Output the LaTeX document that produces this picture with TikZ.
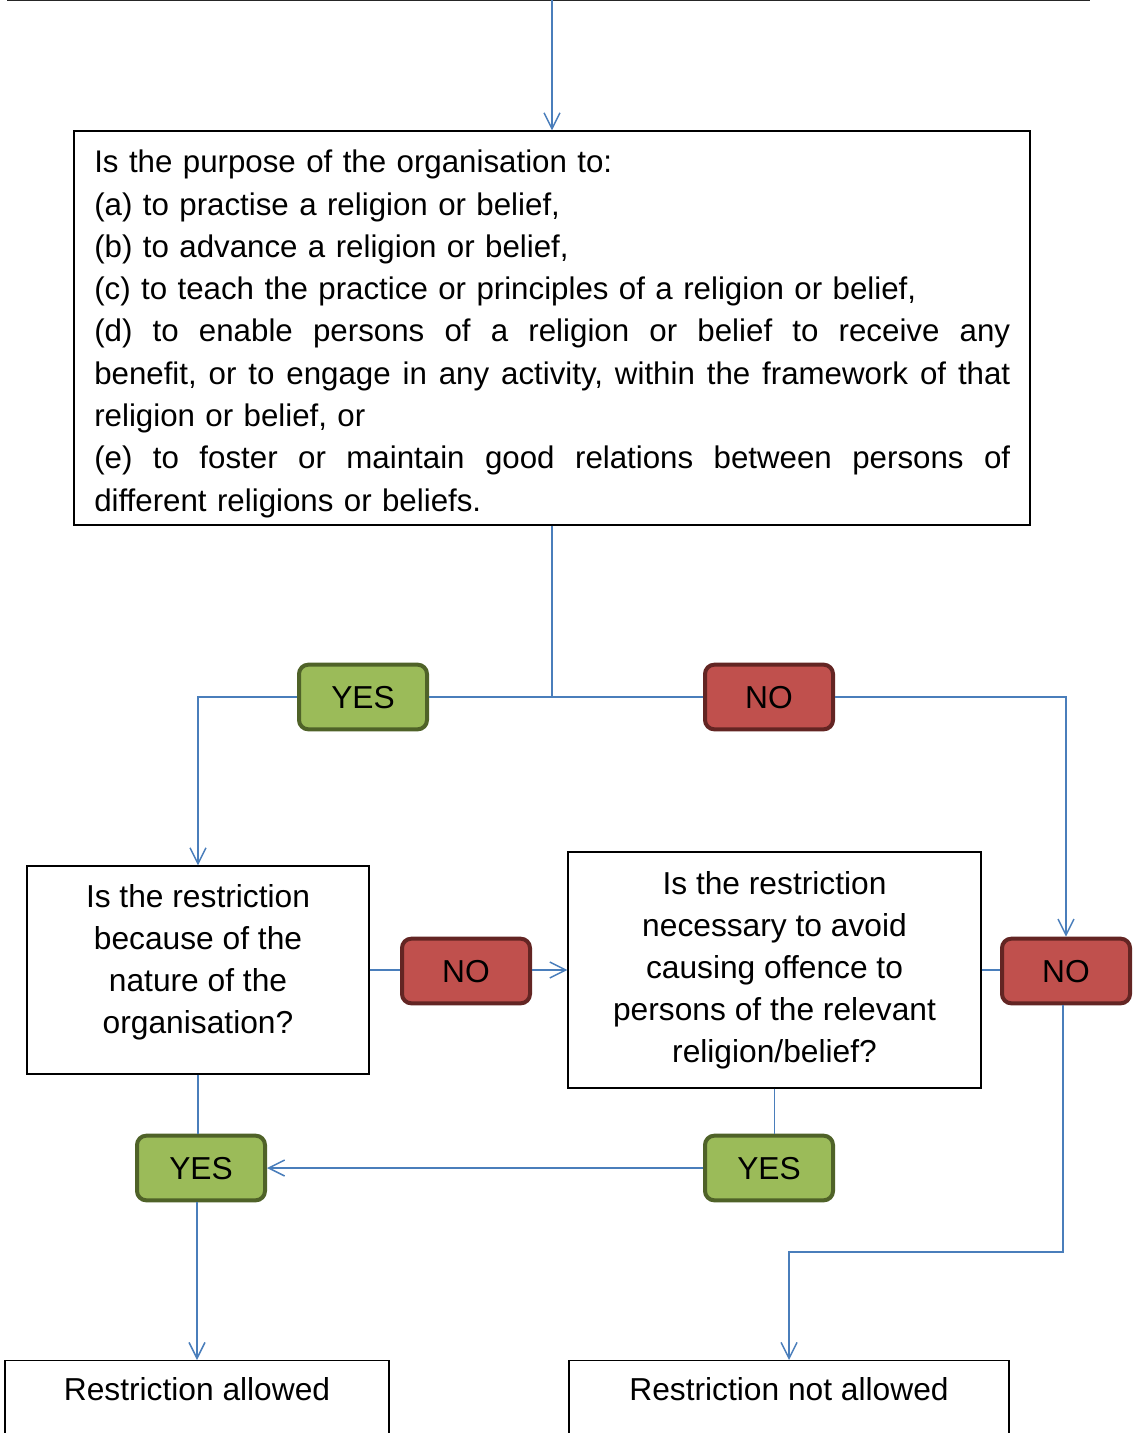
\documentclass[tikz,border=0pt]{standalone}
\usepackage{fontspec}
\setmainfont{Liberation Sans}
\usetikzlibrary{arrows.meta}
\definecolor{lineblue}{HTML}{4A7EBB}
\definecolor{yesfill}{HTML}{9BBB59}
\definecolor{yesdraw}{HTML}{4F6228}
\definecolor{nofill}{HTML}{C0504D}
\definecolor{nodraw}{HTML}{632523}
\tikzset{
  px/.style={x=0.75pt,y=-0.75pt},
  qbox/.style={draw=black,line width=0.9pt,align=center,inner sep=0pt},
  qtext/.style={align=center,inner sep=0pt},
  yesbox/.style={draw=yesdraw,fill=yesfill,line width=3pt,rounded corners=7pt,
    minimum width=96pt,minimum height=48.5pt,inner sep=0pt,text height=17pt,text depth=-1.5pt},
  nobox/.style={draw=nodraw,fill=nofill,line width=3pt,rounded corners=7pt,
    minimum width=96pt,minimum height=48.5pt,inner sep=0pt,text height=17pt,text depth=-1.5pt},
  conn/.style={draw=lineblue,line width=1.1pt},
  arr/.style={conn,-{Straight Barb[length=12pt,width=12pt]}},
  endbox/.style={draw=black,line width=0.9pt,anchor=north,inner xsep=0pt,inner ysep=12pt,
    text height=18pt,text depth=150pt},
}
\newcommand{\bigtxt}{\fontsize{23.8pt}{31.5pt}\selectfont}
\newcommand{\maintxt}{\fontsize{23.45pt}{31.7pt}\selectfont}
\begin{document}
\begin{tikzpicture}[px,font=\bigtxt]
\useasboundingbox (0,0) rectangle (1133,1433);
\clip (0,0) rectangle (1133,1433);
\draw[line width=1pt,black!85] (7,0) -- (1090,0);
\coordinate (top) at (552,0);
\node[qbox,minimum width=717pt,minimum height=295.5pt] (main) at (552,328) {};
\node[anchor=north west,inner sep=0pt,text width=687pt,align=left,font=\maintxt] (maintext) at (94,150)
{Is the purpose of the organisation to:\\
(a) to practise a religion or belief,\\
(b) to advance a religion or belief,\\
(c) to teach the practice or principles of a religion or belief,\\
(d)\hfill to\hfill enable\hfill persons\hfill of\hfill a\hfill religion\hfill or\hfill belief\hfill to\hfill receive\hfill any\\
benefit,\hfill or\hfill to\hfill engage\hfill in\hfill any\hfill activity,\hfill within\hfill the\hfill framework\hfill of\hfill that\\
religion or belief, or\\
(e)\hfill to\hfill foster\hfill or\hfill maintain\hfill good\hfill relations\hfill between\hfill persons\hfill of\\
different religions or beliefs.};
\node[yesbox] (yes1) at (363,697) {YES};
\node[nobox] (no1) at (769,697) {NO};
\node[qbox,minimum width=256.5pt,minimum height=156pt] (q2) at (198,970) {};
\node[qtext] (q2text) at (198,962)
{Is the restriction\\because of the\\nature of the\\organisation?};
\node[nobox] (no2) at (466,971) {NO};
\node[qbox,minimum width=309.75pt,minimum height=177pt] (q3) at (774.5,970)
{Is the restriction\\necessary to avoid\\causing offence to\\persons of the relevant\\religion/belief?};
\node[nobox] (no3) at (1066,971) {NO};
\node[yesbox] (yes2) at (201,1168) {YES};
\node[yesbox] (yes3) at (769,1168) {YES};
\node[endbox,minimum width=288pt] (allowed) at (197,1360) {Restriction allowed};
\node[endbox,minimum width=330pt] (notallowed) at (789,1360) {Restriction not allowed};
\coordinate (j1) at (552,697);
\coordinate (k1) at (1063,1252);
% connectors
\draw[arr] (top) -- (main.north);
\draw[conn] (main.south) -- (j1);
\draw[conn] (j1) -- (yes1.east);
\draw[arr] (yes1.west) -| (q2.north);
\draw[conn] (j1) -- (no1.west);
\draw[arr] (no1.east) -| (no3.north);
\draw[conn] (q2.east) -- (q2.east -| no2.west);
\draw[arr] (q3.west -| no2.east) -- (q3.west);
\draw[conn] (q3.east) -- (q3.east -| no3.west);
\draw[conn] (q2.south) -- (q2.south |- yes2.north);
\draw[conn] (q3.south) -- (q3.south |- yes3.north);
\draw[arr] (yes3.west) -- (yes2.east);
\draw[arr] (yes2.south -| allowed.north) -- (allowed.north);
\draw[arr] (no3.south -| k1) -- (k1) -| (notallowed.north);
\end{tikzpicture}
\end{document}
